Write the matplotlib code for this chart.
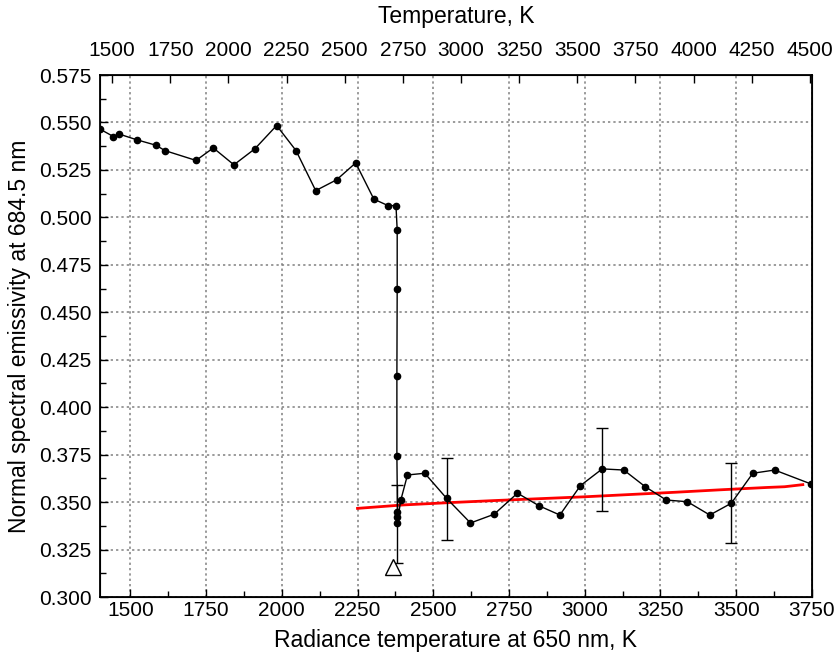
import numpy as np
import matplotlib.pyplot as plt
from matplotlib.ticker import MultipleLocator

plt.rcParams['font.family'] = ['Liberation Sans', 'DejaVu Sans']

# Datos
rad_t = [1400, 1444, 1463, 1521, 1585, 1614, 1717, 1774, 1842, 1911, 1983, 2047,
         2112, 2181, 2244, 2304, 2351, 2377, 2381, 2381, 2380, 2380, 2382, 2381,
         2381, 2393, 2415, 2472, 2544, 2623, 2701, 2778, 2850, 2918, 2986, 3058,
         3129, 3200, 3269, 3339, 3413, 3484, 3555, 3627, 3748]
emis = [0.5465, 0.5426, 0.5439, 0.5409, 0.5380, 0.5352, 0.5300, 0.5366, 0.5277,
        0.5361, 0.5484, 0.5352, 0.5141, 0.5198, 0.5287, 0.5096, 0.5062, 0.5062,
        0.4934, 0.4623, 0.4165, 0.3745, 0.3450, 0.3420, 0.3390, 0.3511, 0.3643,
        0.3652, 0.3520, 0.3390, 0.3436, 0.3547, 0.3480, 0.3432, 0.3587, 0.3675,
        0.3669, 0.3581, 0.3511, 0.3502, 0.3432, 0.3494, 0.3652, 0.3669, 0.3595]

err_t = [2381, 2544, 3058, 3484]
err_e = [0.3385, 0.3516, 0.3670, 0.3494]
err_sz = [0.0205, 0.0215, 0.0218, 0.0210]

tri_t = [2366]
tri_e = [0.316]

red_t = [2250, 2400, 2550, 2700, 2850, 3000, 3150, 3300, 3450, 3600, 3660, 3720]
red_e = [0.3467, 0.3485, 0.3497, 0.3508, 0.3518, 0.3528, 0.3540, 0.3552, 0.3565,
         0.3577, 0.3581, 0.3592]

top_ticks = np.arange(1500, 4501, 250)

fig = plt.figure(figsize=(8.37, 6.61), dpi=100)
ax = fig.add_axes([0.1195, 0.0968, 0.8505, 0.7897])

ax.grid(True, which='major', color='#808080', linestyle=(0, (1.5, 2)), linewidth=1.1)
ax.set_axisbelow(True)

ax.plot(red_t, red_e, color='red', linewidth=2, zorder=3)
ax.plot(rad_t, emis, color='black', linewidth=1, marker='o', markersize=4.5, zorder=4)
ax.errorbar(err_t, err_e, yerr=err_sz, fmt='none', ecolor='black', elinewidth=1,
            capsize=4, capthick=1, zorder=4)
ax.plot(tri_t, tri_e, linestyle='none', marker='^', markersize=11,
        markerfacecolor='white', markeredgecolor='black', markeredgewidth=1, zorder=5)

ax.set_xlim(1400, 3750)
ax.set_ylim(0.300, 0.575)
ax.xaxis.set_major_locator(MultipleLocator(250))
ax.xaxis.set_minor_locator(MultipleLocator(125))
ax.yaxis.set_major_locator(MultipleLocator(0.025))
ax.yaxis.set_minor_locator(MultipleLocator(0.0125))
ax.yaxis.set_major_formatter(plt.FormatStrFormatter('%.3f'))
ax.tick_params(which='both', direction='in', labelsize=15, top=False, right=False)
ax.tick_params(axis='x', pad=3)
ax.tick_params(axis='y', pad=6)
ax.tick_params(which='major', length=6, width=1)
ax.tick_params(which='minor', length=4, width=1)
for s in ax.spines.values():
    s.set_linewidth(1.3)

ax.set_xlabel('Radiance temperature at 650 nm, K', fontsize=16.5, labelpad=6)
ax.set_ylabel('Normal spectral emissivity at 684.5 nm', fontsize=16.5, labelpad=6)

# Eje superior: temperatura verdadera
ax2 = ax.twiny()
ax2.set_xlim(1448, 4509)
ax2.set_xticks(top_ticks)
ax2.tick_params(which='both', direction='in', labelsize=15, pad=11, length=6, width=1)
ax2.set_xlabel('Temperature, K', fontsize=16.5, labelpad=13)

plt.savefig('out.png', dpi=100)
